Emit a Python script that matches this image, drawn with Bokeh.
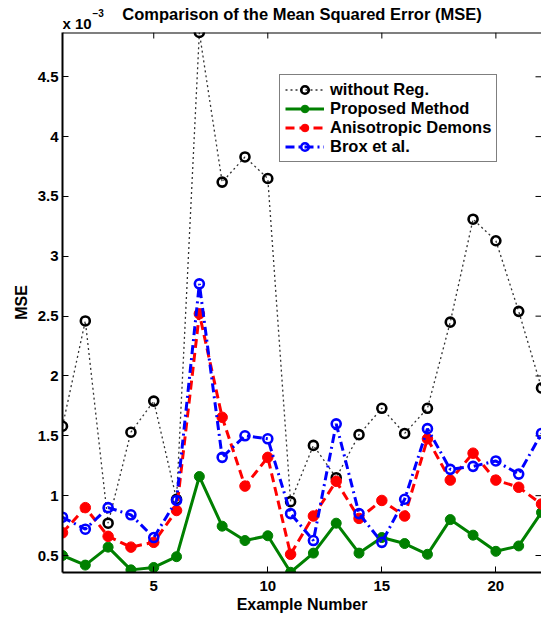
from bokeh.plotting import figure
from bokeh.layouts import column
from bokeh.models import FixedTicker, Label, Legend, LegendItem, Range1d, Span
from bokeh.embed import file_html
from bokeh.resources import INLINE

FONT = "Liberation Sans"

# ---- data (MSE in units of 1e-3) ----
example_number = list(range(1, 23))
mse_without_reg = [1.58, 2.46, 0.77, 1.53, 1.79, 0.97, 4.87, 3.62, 3.83, 3.65, 0.95,
                   1.42, 1.15, 1.51, 1.73, 1.52, 1.73, 2.45, 3.31, 3.13, 2.54, 1.90]
mse_proposed = [0.50, 0.42, 0.57, 0.38, 0.40, 0.49, 1.16, 0.745, 0.625, 0.665, 0.36,
                0.52, 0.77, 0.52, 0.65, 0.60, 0.51, 0.80, 0.67, 0.535, 0.58, 0.86]
mse_anisotropic = [0.69, 0.90, 0.66, 0.57, 0.61, 0.876, 2.52, 1.655, 1.08, 1.32, 0.51,
                   0.83, 1.12, 0.81, 0.96, 0.83, 1.475, 1.13, 1.355, 1.13, 1.07, 0.93]
mse_brox = [0.82, 0.72, 0.90, 0.84, 0.65, 0.96, 2.77, 1.32, 1.50, 1.475, 0.85,
            0.625, 1.60, 0.85, 0.61, 0.97, 1.56, 1.22, 1.245, 1.29, 1.18, 1.52]

series_names = ["without Reg.", "Proposed Method", "Anisotropic Demons", "Brox et al."]

x_ticks = [5, 10, 15, 20]
y_ticks = [0.5, 1.0, 1.5, 2.0, 2.5, 3.0, 3.5, 4.0, 4.5]
y_tick_labels = ["0.5", "1", "1.5", "2", "2.5", "3", "3.5", "4", "4.5"]
x_limits = (1, 22)
y_limits = (0.358, 4.87)

title_text = "Comparison of the Mean Squared Error (MSE)"
x_label = "Example Number"
y_label = "MSE"
exponent_base = "x 10"
exponent_power = "\u22123"

# ---- layout geometry (pixels) ----
W, H = 541, 618
HEADER_H = 32
BORDER_L, BORDER_B = 62, 46
FRAME_W = W - BORDER_L
FRAME_H = H - HEADER_H - BORDER_B
TICK_LEN = 6

# ---- header strip (title and exponent) ----
# its frame is aligned with the main frame by the column layout, so its
# x range spans the page pixels BORDER_L..W
head = figure(width=W, height=HEADER_H, x_range=Range1d(BORDER_L, W), y_range=Range1d(0, HEADER_H),
              x_axis_type=None, y_axis_type=None,
              output_backend="svg", toolbar_location=None, min_border=0)
head.grid.visible = False
head.outline_line_color = None
head.border_fill_color = "white"
head.background_fill_color = "white"
head.add_layout(Label(x=BORDER_L + FRAME_W / 2, y=HEADER_H - 4, text=title_text,
                      text_align="center", text_baseline="top",
                      text_font=FONT, text_font_style="bold", text_font_size="16.5px",
                      text_color="black"))
head.add_layout(Label(x=BORDER_L, y=HEADER_H - 14, text=exponent_base,
                      text_align="left", text_baseline="top",
                      text_font=FONT, text_font_style="bold", text_font_size="15px",
                      text_color="black"))
head.add_layout(Label(x=BORDER_L + 30, y=HEADER_H - 8, text=exponent_power,
                      text_align="left", text_baseline="top",
                      text_font=FONT, text_font_style="bold", text_font_size="10px",
                      text_color="black"))

# ---- main figure ----
p = figure(width=W, height=H - HEADER_H,
           x_range=Range1d(*x_limits), y_range=Range1d(*y_limits),
           output_backend="svg", toolbar_location=None,
           min_border_left=BORDER_L, min_border_right=0,
           min_border_top=0, min_border_bottom=BORDER_B)
p.grid.visible = False
p.outline_line_color = None
p.background_fill_color = "white"
p.border_fill_color = "white"


def style_axis(ax):
    ax.major_tick_in = TICK_LEN
    ax.major_tick_out = 0
    ax.minor_tick_in = 0
    ax.minor_tick_out = 0
    ax.axis_line_width = 2
    ax.axis_line_color = "black"
    ax.major_tick_line_color = "black"
    ax.major_tick_line_width = 1
    ax.major_label_text_font = FONT
    ax.major_label_text_font_style = "bold"
    ax.major_label_text_color = "black"
    ax.major_label_text_font_size = "15px"
    ax.axis_label_text_font = FONT
    ax.axis_label_text_font_style = "bold"
    ax.axis_label_text_font_size = "16px"
    ax.axis_label_text_color = "black"


xa = p.xaxis[0]
xa.ticker = FixedTicker(ticks=x_ticks)
style_axis(xa)
xa.axis_label = x_label
xa.major_label_standoff = 8
xa.axis_label_standoff = 2

ya = p.yaxis[0]
ya.ticker = FixedTicker(ticks=y_ticks)
style_axis(ya)
ya.major_label_overrides = {t: l for t, l in zip(y_ticks, y_tick_labels)}
ya.axis_label = y_label
ya.major_label_standoff = 4
ya.axis_label_standoff = 5

# top border line and inward ticks on the top and right sides
p.add_layout(Span(location=y_limits[1], dimension="width", line_color="black", line_width=2))
dy = TICK_LEN * (y_limits[1] - y_limits[0]) / FRAME_H
dx = TICK_LEN * (x_limits[1] - x_limits[0]) / FRAME_W
p.segment(x0=x_ticks, y0=[y_limits[1]] * len(x_ticks), x1=x_ticks, y1=[y_limits[1] - dy] * len(x_ticks),
          line_color="black", line_width=1)
p.segment(x0=[x_limits[1]] * len(y_ticks), y0=y_ticks, x1=[x_limits[1] - dx] * len(y_ticks), y1=y_ticks,
          line_color="black", line_width=1)

# ---- series ----
r_black_l = p.line(example_number, mse_without_reg, line_color="#333333", line_width=1.3, line_dash="2 3")
r_black_m = p.scatter(example_number, mse_without_reg, marker="circle", size=9,
                      fill_color=None, line_color="black", line_width=2.6)

r_green_l = p.line(example_number, mse_proposed, line_color="#008000", line_width=3)
r_green_m = p.scatter(example_number, mse_proposed, marker="circle", size=10,
                      fill_color="#008000", line_color="#008000", line_width=1)

r_red_l = p.line(example_number, mse_anisotropic, line_color="#ff0000", line_width=3, line_dash="9 5")
r_red_m = p.scatter(example_number, mse_anisotropic, marker="circle", size=10.5,
                    fill_color="#ff0000", line_color="#ff0000", line_width=1)

r_blue_l = p.line(example_number, mse_brox, line_color="#0000ff", line_width=3, line_dash="9 4 2 4")
r_blue_m = p.scatter(example_number, mse_brox, marker="circle", size=9,
                     fill_color=None, line_color="#0000ff", line_width=2.6)

legend = Legend(items=[
    LegendItem(label=series_names[0], renderers=[r_black_l, r_black_m]),
    LegendItem(label=series_names[1], renderers=[r_green_l, r_green_m]),
    LegendItem(label=series_names[2], renderers=[r_red_l, r_red_m]),
    LegendItem(label=series_names[3], renderers=[r_blue_l, r_blue_m]),
], location=(217, 410))
legend.margin = 0
legend.padding = 5
legend.spacing = 0
legend.glyph_width = 39
legend.glyph_height = 19
legend.label_height = 19
legend.label_standoff = 6
legend.label_text_font = FONT
legend.label_text_font_style = "bold"
legend.label_text_font_size = "16.5px"
legend.label_text_color = "black"
legend.border_line_color = "black"
legend.border_line_width = 1
legend.background_fill_color = "white"
legend.background_fill_alpha = 1
p.add_layout(legend, "center")

layout = column(head, p, spacing=0)
open("out.html", "w").write(file_html(layout, INLINE))
